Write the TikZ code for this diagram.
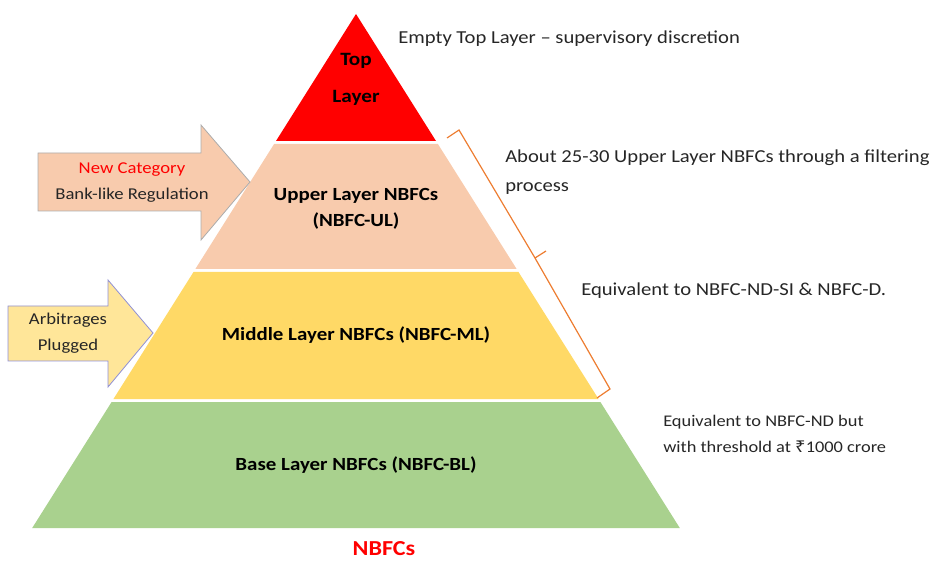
\documentclass[tikz,border=0pt]{standalone}
\usepackage{fontspec}
\setmainfont[FakeStretch=1.13]{Carlito}
\newfontfamily\rupeefont[FakeStretch=1.13]{Noto Sans}
\definecolor{topred}{HTML}{FF0000}
\definecolor{upperpeach}{HTML}{F8CBAD}
\definecolor{midyellow}{HTML}{FFD966}
\definecolor{basegreen}{HTML}{A9D18E}
\definecolor{arrowyellow}{HTML}{FFE699}
\definecolor{braceorange}{HTML}{ED7D31}
\definecolor{txtgray}{HTML}{262626}
\begin{document}
\begin{tikzpicture}[x=0.75pt,y=-0.75pt,
  layerlabel/.style={font=\bfseries\fontsize{13.9}{19.5}\selectfont, align=center, text=black, inner sep=0pt},
  sidenote/.style={font=\fontsize{13.7}{22}\selectfont, align=left, anchor=west, text=txtgray, inner sep=0pt},
  smallnote/.style={font=\fontsize{12.2}{19.5}\selectfont, align=left, anchor=west, text=txtgray, inner sep=0pt},
  blockarrow/.style={draw=gray!65, line width=0.6pt},
  arrowlabel/.style={font=\fontsize{12.4}{19.5}\selectfont, align=center, text=txtgray, inner sep=0pt},
  bracket/.style={draw=braceorange, line width=0.9pt, line join=miter}
]
\useasboundingbox (0,0) rectangle (933,563);

% pyramid layers
\fill[topred] (356,14) -- (436,141) -- (276,141) -- cycle;
\fill[upperpeach] (274.1,144) -- (437.9,144) -- (516.65,269) -- (195.35,269) -- cycle;
\fill[midyellow] (193.5,272) -- (518.5,272) -- (598.55,399) -- (113.45,399) -- cycle;
\fill[basegreen] (111.6,402) -- (600.4,402) -- (679.8,528) -- (32.2,528) -- cycle;

% layer labels
\node[layerlabel, font=\bfseries\fontsize{14.1}{27.75}\selectfont] (toplab) at (356,79) {Top\\Layer};
\node[layerlabel] (upperlab) at (356,209) {Upper Layer NBFCs\\(NBFC-UL)};
\node[layerlabel] (midlab) at (356,335) {Middle Layer NBFCs (NBFC-ML)};
\node[layerlabel] (baselab) at (356,465) {Base Layer NBFCs (NBFC-BL)};
\node[font=\bfseries\fontsize{16}{18}\selectfont, text=topred, inner sep=0pt] (nbfcs) at (384,549) {NBFCs};

% block arrows
\path[blockarrow, fill=upperpeach] (38,153) -- (201,153) -- (201,125) -- (250,182) -- (201,240) -- (201,211) -- (38,211) -- cycle;
\node[arrowlabel] (newcat) at (132,183) {\textcolor{topred}{New Category}\\Bank-like Regulation};
\path[blockarrow, fill=arrowyellow, draw=gray!55!blue!60] (8,306) -- (108,306) -- (108,280) -- (153,333) -- (108,387) -- (108,361) -- (8,361) -- cycle;
\node[arrowlabel] (arb) at (68,333.5) {Arbitrages\\Plugged};

% bracket
\coordinate (b1) at (447,138);
\coordinate (b2) at (459,130);
\coordinate (bm) at (535,258);
\coordinate (bt) at (546,251);
\coordinate (b3) at (610,389);
\coordinate (b4) at (597,398);
\draw[bracket] (b1) -- (b2) -- (bm) -- (b3) -- (b4);
\draw[bracket] (bm) -- (bt);

% side notes
\node[sidenote] (emptytop) at (398,39) {Empty Top Layer -- supervisory discretion};
\node[sidenote] (about) at (505,172) {About 25-30 Upper Layer NBFCs through a filtering\\process};
\node[sidenote] (equivsi) at (581,291) {Equivalent to NBFC-ND-SI \& NBFC-D.};
\node[smallnote] (equivnd) at (663,434) {Equivalent to NBFC-ND but\\with threshold at {\rupeefont ₹}1000 crore};
\end{tikzpicture}
\end{document}
